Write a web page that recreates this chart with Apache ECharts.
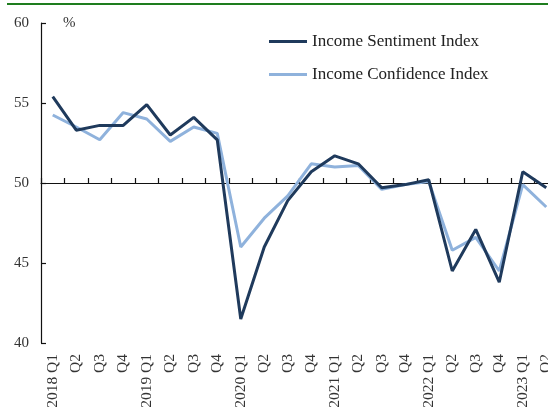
<!DOCTYPE html>
<html>
<head>
<meta charset="utf-8">
<script src="https://cdn.jsdelivr.net/npm/echarts@6/dist/echarts.min.js"></script>
<style>
  html, body { margin: 0; padding: 0; background: #fff; }
  #chart { width: 548px; height: 409px; }
</style>
</head>
<body>
<div id="chart"></div>
<script>
// quarters, 2018 Q1 .. 2023 Q2
const categories = [
  '2018 Q1', 'Q2', 'Q3', 'Q4',
  '2019 Q1', 'Q2', 'Q3', 'Q4',
  '2020 Q1', 'Q2', 'Q3', 'Q4',
  '2021 Q1', 'Q2', 'Q3', 'Q4',
  '2022 Q1', 'Q2', 'Q3', 'Q4',
  '2023 Q1', 'Q2'
]
const sentimentIndex = [55.4, 53.3, 53.6, 53.6, 54.9, 53.0, 54.1, 52.7, 41.5, 46.0, 48.9, 50.7,
  51.7, 51.2, 49.7, 49.9, 50.2, 44.5, 47.1, 43.8, 50.7, 49.7]
const confidenceIndex = [54.25, 53.5, 52.7, 54.4, 54.0, 52.6, 53.5, 53.1, 46.0, 47.8, 49.2, 51.2,
  51.0, 51.1, 49.6, 49.9, 50.1, 45.8, 46.6, 44.5, 49.9, 48.5]
const yTicks = [40, 45, 50, 55, 60]

const FONT = 'Liberation Serif'
const chart = echarts.init(document.getElementById('chart'))

chart.setOption({
  backgroundColor: '#fff',
  animation: false,
  graphic: [
    { type: 'rect', shape: { x: 7, y: 3, width: 541, height: 2 }, style: { fill: '#1e7d1e' } }
  ],
  legend: {
    orient: 'vertical',
    left: 264,
    top: 28,
    icon: 'rect',
    itemWidth: 38,
    itemHeight: 3,
    itemGap: 16,
    textStyle: { fontFamily: FONT, fontSize: 17, color: '#222' },
    data: ['Income Sentiment Index', 'Income Confidence Index']
  },
  // plot runs past the right edge, last quarter is cut off like the source
  grid: { left: 41, width: 517, top: 23, bottom: 66, outerBoundsMode: 'none' },
  xAxis: [
    {
      type: 'category',
      data: categories,
      axisLine: { show: false },
      axisTick: { show: false },
      axisLabel: { interval: 0, rotate: 90, margin: 11, fontFamily: FONT, fontSize: 15.5, color: '#333' }
    },
    {
      // reference line at 50 with the quarter ticks
      type: 'category',
      data: categories,
      position: 'bottom',
      offset: -160,
      axisLine: { show: true, lineStyle: { color: '#111', width: 1.2 } },
      axisTick: { show: true, interval: 0, inside: true, length: 5, lineStyle: { color: '#111', width: 1.2 } },
      axisLabel: { show: false, interval: 0 }
    }
  ],
  yAxis: {
    type: 'value',
    min: yTicks[0],
    max: yTicks[yTicks.length - 1],
    interval: 5,
    name: '%',
    nameLocation: 'end',
    nameGap: 0,
    nameTextStyle: { fontFamily: FONT, fontSize: 15, color: '#333', align: 'left', verticalAlign: 'middle', padding: [0, 0, 0, 22] },
    splitLine: { show: false },
    axisLine: { show: true, lineStyle: { color: '#111', width: 1.2 } },
    axisTick: { show: true, inside: true, length: 5, lineStyle: { color: '#111', width: 1.2 } },
    axisLabel: { margin: 12, fontFamily: FONT, fontSize: 15, color: '#333' }
  },
  series: [
    {
      name: 'Income Sentiment Index',
      type: 'line',
      data: sentimentIndex,
      symbol: 'none',
      lineStyle: { width: 3, color: '#1f3a5c' },
      itemStyle: { color: '#1f3a5c' },
      z: 3
    },
    {
      name: 'Income Confidence Index',
      type: 'line',
      data: confidenceIndex,
      symbol: 'none',
      lineStyle: { width: 3, color: '#8fb2dc' },
      itemStyle: { color: '#8fb2dc' },
      z: 2
    }
  ]
})
</script>
</body>
</html>
